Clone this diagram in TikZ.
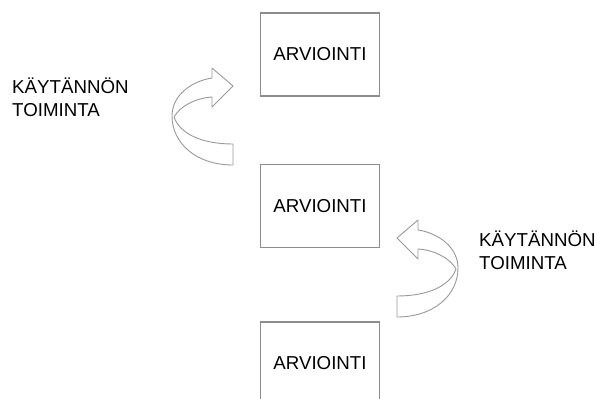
\documentclass[tikz,border=0pt]{standalone}
\usepackage{fontspec}
\setmainfont{Liberation Sans}
\begin{document}
\begin{tikzpicture}[x=1pt,y=-1pt,
  arvbox/.style={draw=gray!90,line width=1.1pt,minimum width=119pt,minimum height=83pt,inner sep=0pt},
  kaarinuoli/.style={draw=gray!80,line width=0.9pt,line join=round},
  every node/.style={font=\fontsize{18.7}{23}\selectfont}]
  \useasboundingbox (0,0) rectangle (595,399);
  % Boxes
  \node[arvbox] (arv1) at (320,54.5) {ARVIOINTI};
  \node[arvbox] (arv2) at (320,206) {ARVIOINTI};
  \node[arvbox] (arv3) at (320,363.5) {ARVIOINTI};
  % Curved arrows (the second one mirrored)
  \foreach \s/\dx/\dy in {1/0/0, -1/630/152}{
    \begin{scope}[shift={(\dx,\dy)},xscale=\s]
      \draw[kaarinuoli] (233,165) .. controls (196,165) and (172,143) .. (172,116)
        .. controls (172,95) and (192,81) .. (212,78) -- (212,68) -- (233,86)
        -- (212,107) -- (212,97) .. controls (196,98) and (180,106) .. (174,117);
      \draw[kaarinuoli] (233,165) -- (233,144) .. controls (202,144) and (180,134) .. (174,117);
    \end{scope}
  }
  % Labels
  \node[anchor=base west,align=left,inner sep=0pt] (kt1) at (12,116) {KÄYTÄNNÖN\\TOIMINTA};
  \node[anchor=base west,align=left,inner sep=0pt] (kt2) at (479,269) {KÄYTÄNNÖN\\TOIMINTA};
\end{tikzpicture}
\end{document}
